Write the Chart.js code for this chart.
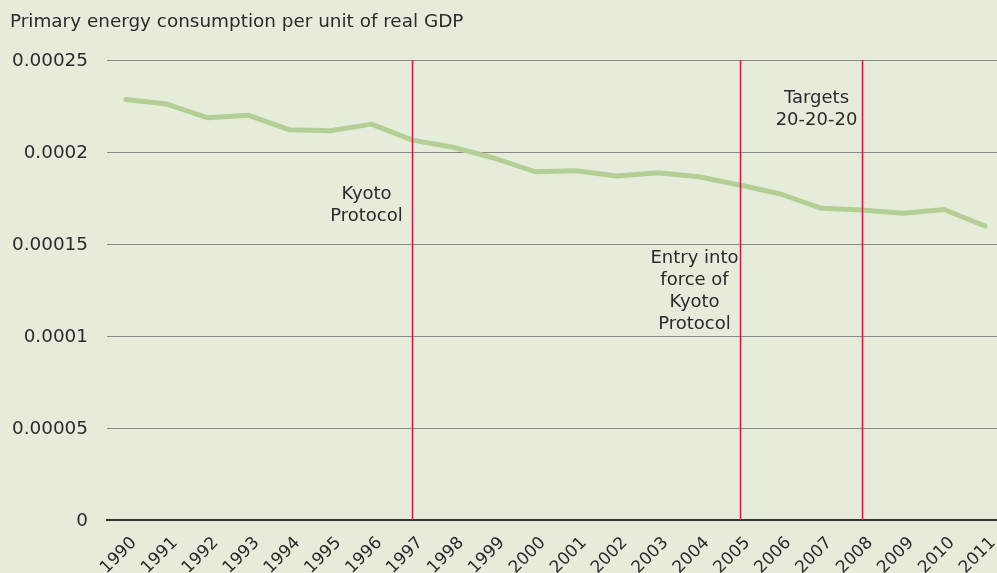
<!DOCTYPE html>
<html>
<head>
<meta charset="utf-8">
<script src="https://cdn.jsdelivr.net/npm/chart.js"></script>
<style>
  html, body { margin: 0; padding: 0; background: #e6ecda; }
  #wrap { width: 997px; height: 573px; }
</style>
</head>
<body>
<div id="wrap"><canvas id="energyChart" width="997" height="573"></canvas></div>
<script>
// data
const years = [1990, 1991, 1992, 1993, 1994, 1995, 1996, 1997, 1998, 1999, 2000,
               2001, 2002, 2003, 2004, 2005, 2006, 2007, 2008, 2009, 2010, 2011];
const intensity = [0.0002286, 0.0002261, 0.0002186, 0.0002200, 0.0002121, 0.0002116,
                   0.0002152, 0.0002065, 0.0002026, 0.0001967, 0.0001893, 0.0001898,
                   0.0001870, 0.0001888, 0.0001866, 0.0001821, 0.0001772, 0.0001694,
                   0.0001685, 0.0001667, 0.0001688, 0.0001598];
const yTicks = [0, 0.00005, 0.0001, 0.00015, 0.0002, 0.00025];
const yTickLabels = ['0', '0.00005', '0.0001', '0.00015', '0.0002', '0.00025'];
const eventYears = [1997, 2005, 2008];
const eventLabels = [
    ['Kyoto', 'Protocol'],
    ['Entry into', 'force of', 'Kyoto', 'Protocol'],
    ['Targets', '20-20-20']
];
const titleText = 'Primary energy consumption per unit of real GDP';

const FONT = '"DejaVu Sans", Verdana, sans-serif';
const textColor = '#2b2b2b';

// where each event's text block starts (value on the y axis)
const eventTextTop = [0.0001768, 0.0001424, 0.0002293];

const eventPlugin = {
    id: 'events',
    afterDatasetsDraw(chart) {
        const ctx = chart.ctx;
        const xs = chart.scales.x;
        const ys = chart.scales.y;
        const area = chart.chartArea;
        ctx.save();
        ctx.strokeStyle = '#d4174c';
        ctx.lineWidth = 1.5;
        eventYears.forEach(function(yr, i){
            const x = Math.round(xs.getPixelForValue(yr)) + 0.5;
            ctx.beginPath();
            ctx.moveTo(x, area.top);
            ctx.lineTo(x, area.bottom);
            ctx.stroke();

            ctx.fillStyle = textColor;
            ctx.font = '18px ' + FONT;
            ctx.textAlign = 'center';
            ctx.textBaseline = 'middle';
            let ty = ys.getPixelForValue(eventTextTop[i]);
            eventLabels[i].forEach(function(line){
                ctx.fillText(line, x - 46, ty);
                ty += 22;
            });
        });
        ctx.restore();
    }
};

const bgPlugin = {
    id: 'bg',
    beforeDraw(chart) {
        const ctx = chart.ctx;
        ctx.save();
        ctx.fillStyle = '#e6ecda';
        ctx.fillRect(0, 0, chart.width, chart.height);
        ctx.restore();
    }
};

Chart.defaults.font.family = FONT;
Chart.defaults.color = textColor;

new Chart(document.getElementById('energyChart').getContext('2d'), {
    type: 'line',
    data: {
        labels: years,
        datasets: [{
            data: years.map(function(y, i){ return {x: y, y: intensity[i]}; }),
            borderColor: '#b3cf95',
            borderWidth: 5,
            pointRadius: 0,
            tension: 0,
            borderJoinStyle: 'round',
            borderCapStyle: 'round',
            fill: false
        }]
    },
    options: {
        responsive: false,
        animation: false,
        layout: { padding: { left: 10, right: 0, top: 0, bottom: 0 } },
        plugins: {
            legend: { display: false },
            tooltip: { enabled: false },
            title: {
                display: true,
                text: titleText,
                align: 'start',
                color: textColor,
                font: { size: 18.4, weight: 'normal', family: FONT, lineHeight: 1.2 },
                padding: { top: 11, bottom: 27 }
            }
        },
        scales: {
            x: {
                type: 'linear',
                min: 1989.5355,
                max: 2011.2934,
                afterBuildTicks(scale) {
                    scale.ticks = years.map(function(v){ return {value: v}; });
                },
                afterFit(scale) {
                    scale.height = 53;
                    scale.paddingLeft = 0;
                    scale.paddingRight = 0;
                },
                grid: { display: false, drawTicks: false },
                border: { display: true, color: '#333333', width: 2 },
                ticks: {
                    autoSkip: false,
                    minRotation: 45,
                    maxRotation: 45,
                    padding: 13,
                    labelOffset: 8,
                    color: textColor,
                    font: { size: 17 },
                    callback(v) { return String(v); }
                }
            },
            y: {
                min: 0,
                max: 0.00025,
                afterBuildTicks(scale) {
                    scale.ticks = yTicks.map(function(v){ return {value: v}; });
                },
                afterFit(scale) { scale.width = 97; },
                grid: {
                    color: function(c){ return c.tick && c.tick.value === 0 ? 'rgba(0,0,0,0)' : '#888888'; },
                    lineWidth: 1,
                    drawTicks: false
                },
                border: { display: false },
                ticks: {
                    padding: 19,
                    labelOffset: 1,
                    color: textColor,
                    font: { size: 18.4 },
                    callback(v, i) { return yTickLabels[i]; }
                }
            }
        }
    },
    plugins: [bgPlugin, eventPlugin]
});
</script>
</body>
</html>
